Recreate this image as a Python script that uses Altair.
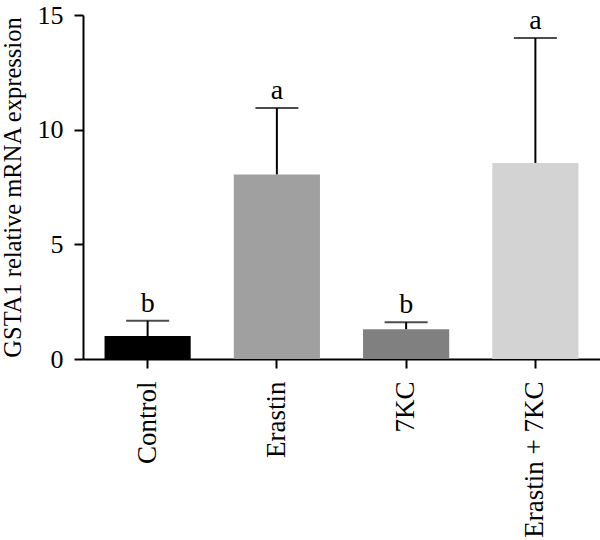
import altair as alt
import pandas as pd

groups = ["Control", "Erastin", "7KC", "Erastin + 7KC"]
means = [1.0, 8.05, 1.3, 8.55]
upper = [1.67, 10.95, 1.6, 14.0]
letters = ["b", "a", "b", "a"]
colors = ["#000000", "#a0a0a0", "#808080", "#d3d3d3"]

df = pd.DataFrame({"group": groups, "mean": means, "upper": upper, "letter": letters})

FONT = "Liberation Serif"

x = alt.X(
    "group:N",
    sort=groups,
    scale=alt.Scale(paddingInner=1 / 3, paddingOuter=1 / 6),
    axis=alt.Axis(
        title=None,
        labelAngle=270,
        labelAlign="right",
        labelBaseline="middle",
        labelFontSize=27,
        labelFont=FONT,
        labelColor="black",
        tickSize=9,
        tickWidth=2,
        tickColor="black",
        domainColor="black",
        domainWidth=2,
        labelPadding=13,
    ),
)
y_scale = alt.Scale(domain=[0, 15], nice=False)

bars = alt.Chart(df).mark_bar().encode(
    x=x,
    y=alt.Y(
        "mean:Q",
        scale=y_scale,
        axis=alt.Axis(
            values=[0, 5, 10, 15],
            title="GSTA1 relative mRNA expression",
            titleFont=FONT,
            titleFontSize=24.5,
            titleFontWeight="normal",
            titleColor="black",
            titleAngle=270,
            titleAlign="center",
            titleBaseline="alphabetic",
            titleX=-63,
            titleY=172,
            labelFont=FONT,
            labelFontSize=26,
            labelColor="black",
            labelPadding=11,
            tickSize=9,
            tickWidth=2,
            tickColor="black",
            domainColor="black",
            domainWidth=2,
            grid=False,
        ),
    ),
    color=alt.Color("group:N", scale=alt.Scale(domain=groups, range=colors), legend=None),
)

rules = alt.Chart(df).mark_rule(strokeWidth=2, color="black").encode(
    x=x, y=alt.Y("mean:Q", scale=y_scale), y2="upper:Q"
)

caps = alt.Chart(df).mark_tick(size=43, thickness=2, color="black").encode(
    x=x, y=alt.Y("upper:Q", scale=y_scale)
)

text = alt.Chart(df).mark_text(
    dy=-9, baseline="alphabetic", align="center", fontSize=28, font=FONT, color="black"
).encode(x=x, y=alt.Y("upper:Q", scale=y_scale), text="letter:N")

chart = (
    alt.layer(bars, rules, caps, text)
    .properties(
        width=517,
        height=344,
        autosize=alt.AutoSizeParams(type="none"),
        padding={"left": 83, "top": 15, "right": 0, "bottom": 181},
        background="white",
    )
    .configure_view(stroke=None)
)

chart.save("out.html", embed_options={"renderer": "svg", "actions": False})
